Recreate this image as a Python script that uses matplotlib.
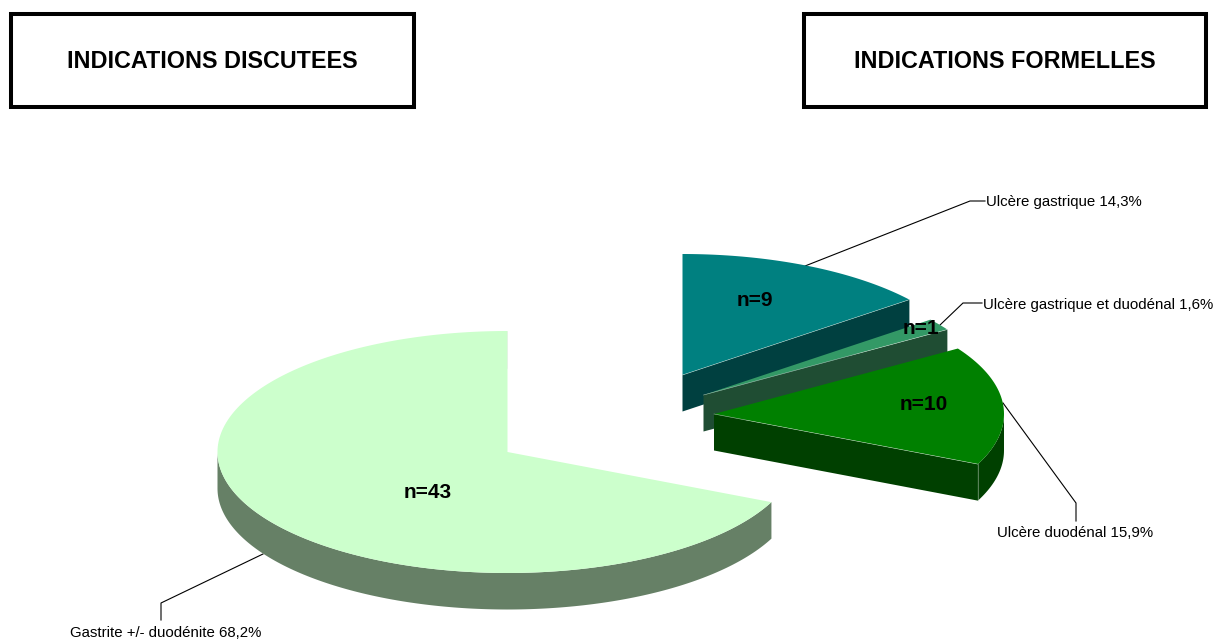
import numpy as np
import matplotlib
matplotlib.use("Agg")
import matplotlib.pyplot as plt
from matplotlib.patches import Polygon, Rectangle

plt.rcParams['font.family'] = ['Liberation Sans', 'DejaVu Sans']

# Data
slice_names = ["Ulcère gastrique", "Ulcère gastrique et duodénal", "Ulcère duodénal", "Gastrite +/- duodénite"]
slice_percent = [14.3, 1.6, 15.9, 68.2]
slice_counts = [9, 1, 10, 43]
slice_percent_text = ["14,3%", "1,6%", "15,9%", "68,2%"]
box_titles = ["INDICATIONS DISCUTEES", "INDICATIONS FORMELLES"]

# Styles / layout (pixel coordinates)
W, H = 1216, 639
RX, RY, DEPTH = 290, 121, 36.5
centers = [(682.5, 375), (703.5, 395), (714, 414), (507.5, 452)]
top_colors = ["#008080", "#339966", "#008000", "#CCFFCC"]
side_colors = ["#004040", "#1F4D33", "#004000", "#668066"]
n_pos = [(755, 301), (920.5, 329), (924, 404), (428, 493)]
leaders = [[(805, 266), (970, 201), (985, 201)],
           [(940, 325), (963, 303), (982, 303)],
           [(1003, 403), (1076, 503), (1076, 521)],
           [(263, 554), (161, 603), (161, 620)]]
label_pos = [(986, 202), (983, 305), (997, 533), (70, 633)]
boxes = [(11, 14, 402.5, 92.5), (803.5, 14, 402.5, 92.5)]
edge_light = "#DDE8DD"

fig = plt.figure(figsize=(W / 100, H / 100), dpi=100)
ax = fig.add_axes([0, 0, 1, 1])
ax.set_xlim(0, W)
ax.set_ylim(H, 0)
ax.axis('off')


def pt(c, t):
    return c[0] + RX * np.sin(t), c[1] - RY * np.cos(t)


def arc(c, t0, t1, dy=0.0):
    n = max(2, int(abs(t1 - t0) * 60))
    t = np.linspace(t0, t1, n)
    return np.column_stack([c[0] + RX * np.sin(t), c[1] - RY * np.cos(t) + dy])


fracs = np.cumsum([0] + slice_percent) / 100 * 2 * np.pi
for i, c in enumerate(centers):
    t0, t1 = fracs[i], fracs[i + 1]
    z = 2 + i
    p1 = pt(c, t1)
    # radial end wall, visible for the slices ending on the viewer's side
    if t1 < np.pi:
        ax.add_patch(Polygon([c, p1, (p1[0], p1[1] + DEPTH), (c[0], c[1] + DEPTH)],
                             closed=True, fc=side_colors[i], ec='none', zorder=z))
    # front rim
    a0, a1 = max(t0, np.pi / 2), min(t1, 3 * np.pi / 2)
    if a1 > a0:
        up = arc(c, a0, a1)
        low = arc(c, a0, a1, DEPTH)[::-1]
        ax.add_patch(Polygon(np.vstack([up, low]), closed=True, fc=side_colors[i], ec='none', zorder=z))
    top = np.vstack([[c], arc(c, t0, t1)])
    ax.add_patch(Polygon(top, closed=True, fc=top_colors[i], ec='none', zorder=z + 0.1))
    if t1 < np.pi:
        ax.plot([c[0], p1[0]], [c[1], p1[1]], color=edge_light, lw=0.4, alpha=0.7, zorder=z + 0.2)
    if a1 > a0:
        ax.plot([p1[0], p1[0]], [p1[1], p1[1] + DEPTH], color=edge_light, lw=0.4, alpha=0.7, zorder=z + 0.2)
    ax.text(n_pos[i][0], n_pos[i][1], f"n={slice_counts[i]}", fontsize=15, fontweight='bold',
            ha='center', va='center', color='black', zorder=20)
    xs, ys = zip(*leaders[i])
    ax.plot(xs, ys, color='black', lw=0.8, zorder=1, solid_joinstyle='miter')
    lx, ly = label_pos[i]
    ax.text(lx, ly, f"{slice_names[i]} {slice_percent_text[i]}", fontsize=10.8, ha='left', va='center',
            color='black', zorder=20)

for (x, y, w, h), title in zip(boxes, box_titles):
    ax.add_patch(Rectangle((x, y), w, h, fc='white', ec='black', lw=2.9, zorder=5, joinstyle='miter'))
    ax.text(x + w / 2, y + h / 2 + 0.8, title, fontsize=16.8, fontweight='bold', ha='center', va='center', zorder=6)

fig.savefig("out.png", dpi=100)
